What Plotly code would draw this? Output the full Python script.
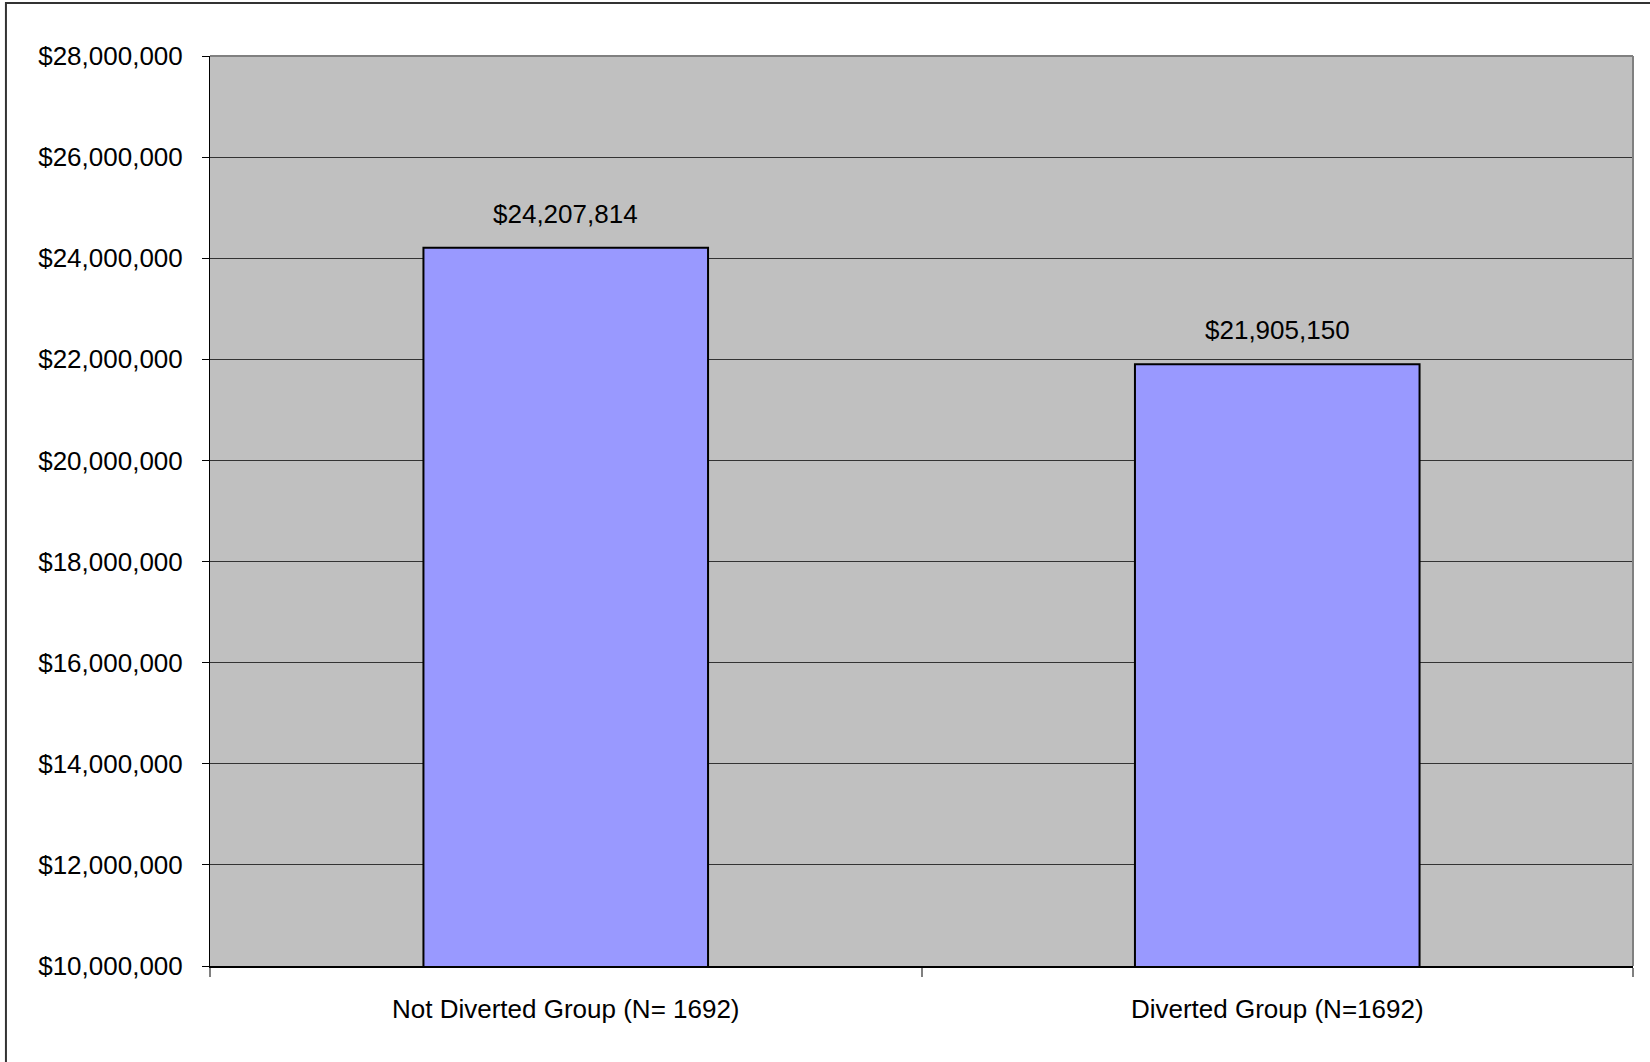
import plotly.graph_objects as go

categories = ["Not Diverted Group (N= 1692)", "Diverted Group (N=1692)"]
values = [24207814, 21905150]
value_labels = ["$24,207,814", "$21,905,150"]
y_ticks = [10000000, 12000000, 14000000, 16000000, 18000000, 20000000,
           22000000, 24000000, 26000000, 28000000]
y_tick_labels = ["$" + format(v, ",") for v in y_ticks]

FONT = "Liberation Sans, Arial, sans-serif"
FS = 26

fig = go.Figure()
fig.add_trace(go.Bar(
    x=categories, y=values,
    marker=dict(color="#9999FF", line=dict(color="#000000", width=2)),
    width=0.4,
    hoverinfo="skip",
))

for c, v, t in zip(categories, values, value_labels):
    fig.add_annotation(x=c, y=v, text=t, showarrow=False, yshift=34,
                       font=dict(family=FONT, size=FS, color="#000000"))

# plot-area top/right frame lines (gray)
fig.add_shape(type="line", xref="paper", yref="paper", x0=0, x1=1, y0=1, y1=1,
              line=dict(color="#808080", width=2))
fig.add_shape(type="line", xref="paper", yref="paper", x0=1, x1=1, y0=0, y1=1,
              line=dict(color="#808080", width=2))
# outer chart border
fig.add_shape(type="rect", xref="paper", yref="paper",
              x0=-0.1434, x1=1.05, y0=-0.2, y1=1.0582,
              line=dict(color="#333333", width=2), layer="above")

fig.update_layout(
    width=1650, height=1062,
    margin=dict(l=210, r=17, t=56, b=96),
    paper_bgcolor="#FFFFFF",
    plot_bgcolor="#C0C0C0",
    showlegend=False,
    font=dict(family=FONT, size=FS, color="#000000"),
    xaxis=dict(
        type="category",
        tickson="boundaries",
        ticks="outside", ticklen=9, tickwidth=2, tickcolor="#808080",
        showline=True, linecolor="#000000", linewidth=2,
        showgrid=False,
        tickfont=dict(family=FONT, size=FS, color="#000000"),
        ticklabelstandoff=19,
    ),
    yaxis=dict(
        range=[10000000, 28000000],
        tickvals=y_ticks,
        ticktext=y_tick_labels,
        ticks="outside", ticklen=7, tickcolor="#000000", tickwidth=1,
        showline=True, linecolor="#000000", linewidth=1,
        showgrid=True, gridcolor="#333333", gridwidth=1,
        zeroline=False,
        tickfont=dict(family=FONT, size=FS, color="#000000"),
        ticklabelstandoff=14,
    ),
)

fig.write_html("out.html", config={"displayModeBar": False},
               post_script="document.body.style.margin='0';")
